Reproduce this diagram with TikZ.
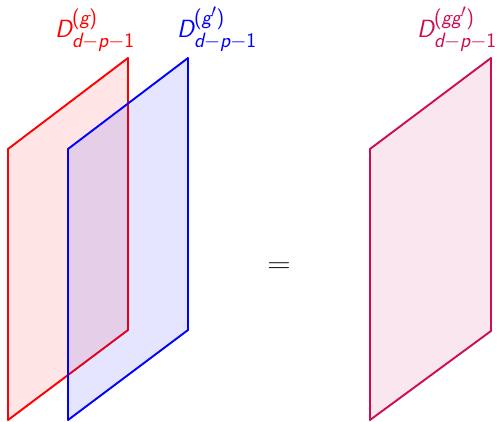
\documentclass[tikz,border=0pt]{standalone}
\usepackage{amsmath}
\usepackage{graphicx}
\definecolor{mag}{rgb}{0.80,0.05,0.33}
\newcommand{\sv}[1]{\textsf{\itshape #1}}
\newcommand{\so}{\textsf{1}}
\newcommand{\spar}[1]{\textsf{(}#1\textsf{)}}
\tikzset{
  sheet/.style={line width=1.9pt, line join=round},
  lab/.style={anchor=base west, inner sep=0pt, font=\Huge}
}
\begin{document}
\begin{tikzpicture}[x=1pt,y=-1pt]
\useasboundingbox (0,0) rectangle (503,422);
% red sheet
\draw[sheet, red, fill=red, fill opacity=0.1] (8,149) -- (128,58) -- (128,330) -- (8,420) -- cycle;
% blue sheet
\draw[sheet, blue, fill=blue, fill opacity=0.1] (68,149) -- (188,58) -- (188,330) -- (68,420) -- cycle;
% fused sheet
\draw[sheet, mag, fill=mag, fill opacity=0.1] (370,149) -- (491,58) -- (491,331) -- (370,420) -- cycle;
\node[lab, red] (lr) at (55,38) {$\sv{D}^{\spar{\sv{g}}}_{\sv{d}-\sv{p}-\so}$};
\node[lab, blue] (lb) at (177,38) {$\sv{D}^{\spar{\sv{g}'}}_{\sv{d}-\sv{p}-\so}$};
\node[lab, mag] (lm) at (417,38) {$\sv{D}^{\spar{\sv{gg}'}}_{\sv{d}-\sv{p}-\so}$};
\node[font=\Huge, inner sep=0pt] (eq) at (279,268) {\scalebox{1.3}[1.1]{$=$}};
\end{tikzpicture}
\end{document}
